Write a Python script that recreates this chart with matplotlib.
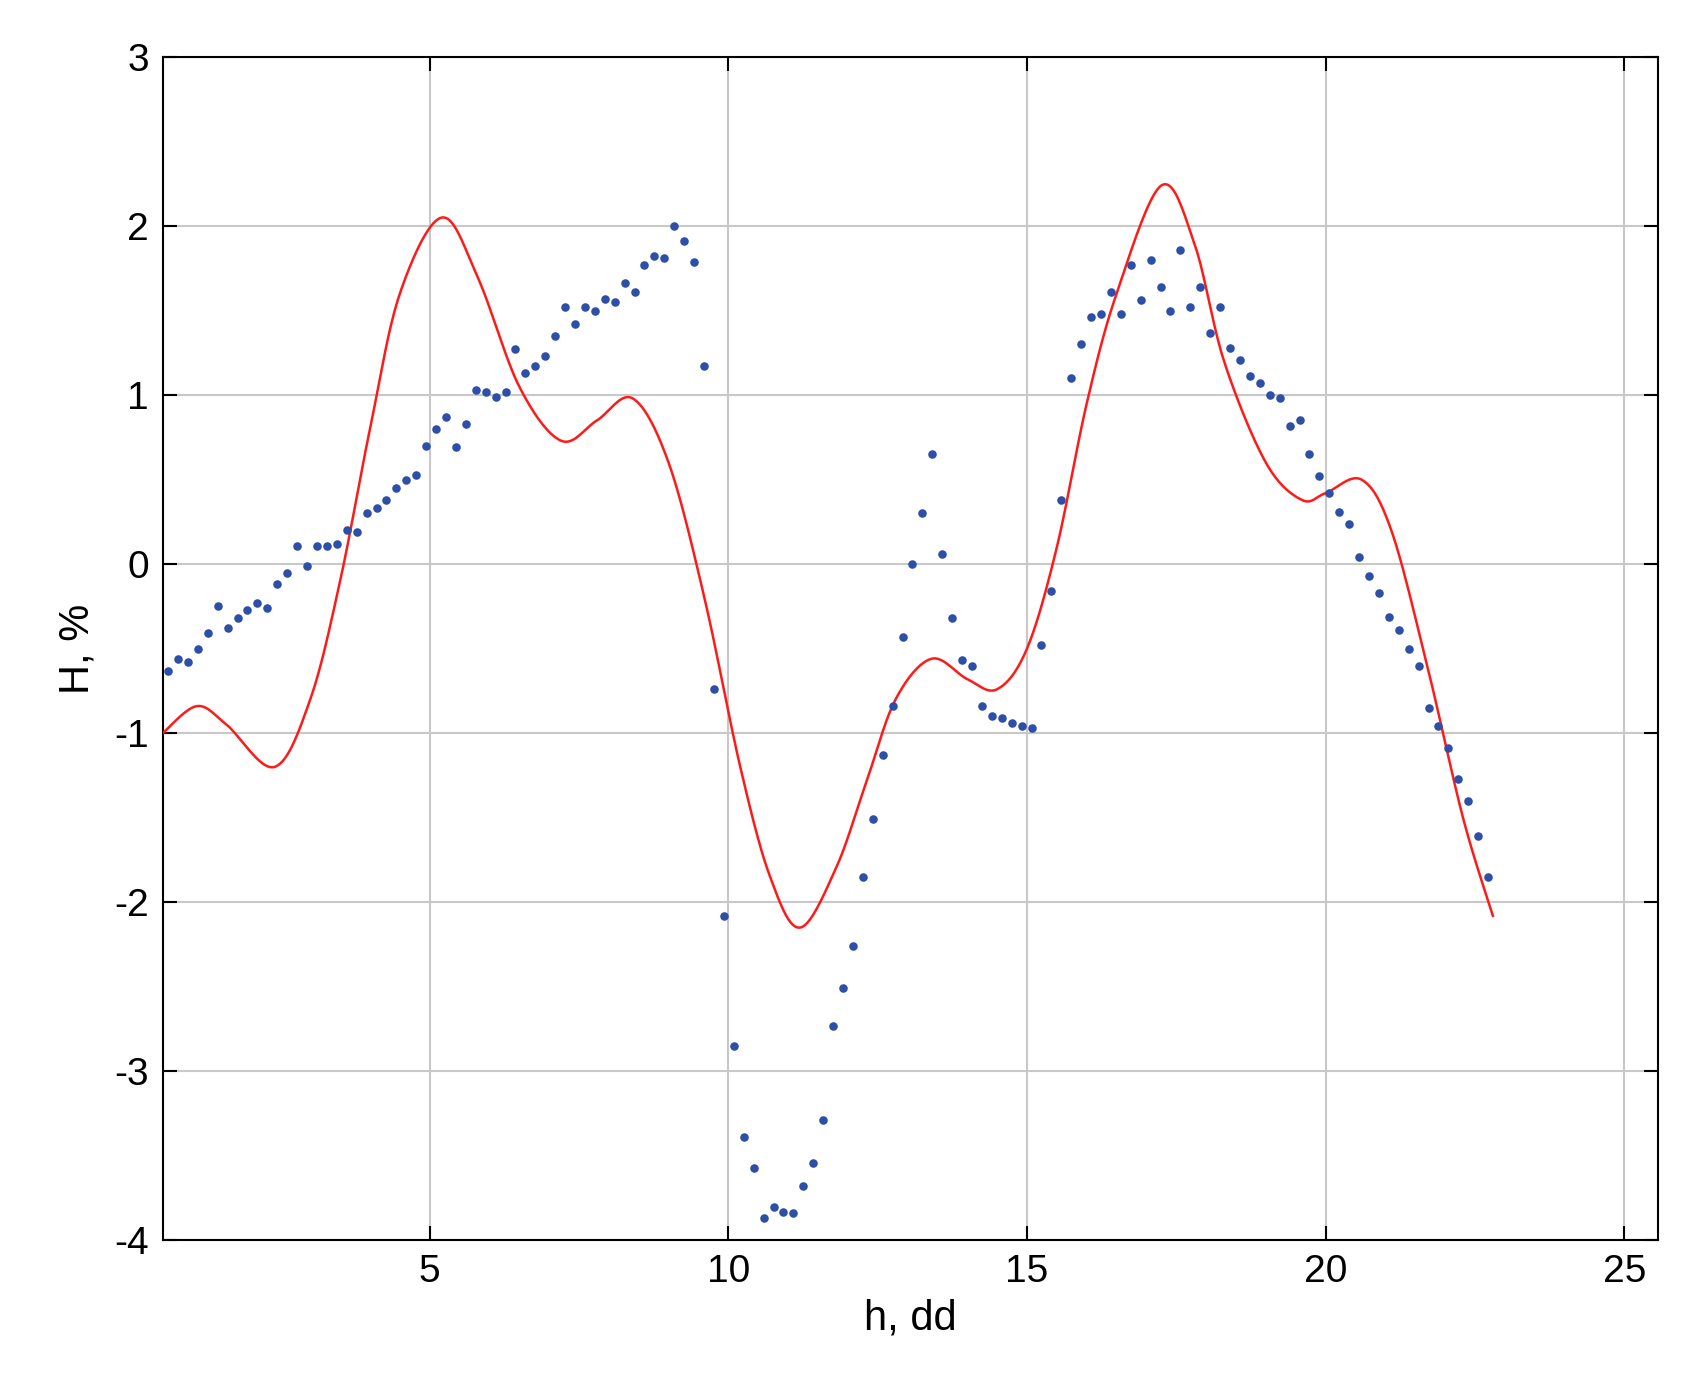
import numpy as np
import matplotlib
matplotlib.use("Agg")
import matplotlib.pyplot as plt

plt.rcParams['font.family'] = ['Liberation Sans', 'DejaVu Sans']
plt.rcParams['axes.unicode_minus'] = False

obs_y = [-0.63,-0.56,-0.58,-0.50,-0.41,-0.25,-0.38,-0.32,-0.27,-0.23,-0.26,-0.12,-0.05,0.11,-0.01,0.11,0.11,0.12,0.20,0.19,
         0.30,0.33,0.38,0.45,0.50,0.53,0.70,0.80,0.87,0.69,0.83,1.03,1.02,0.99,1.02,1.27,1.13,1.17,1.23,1.35,
         1.52,1.42,1.52,1.50,1.57,1.55,1.66,1.61,1.77,1.82,1.81,2.00,1.91,1.79,1.17,-0.74,-2.08,-2.85,-3.39,-3.57,
         -3.87,-3.80,-3.83,-3.84,-3.68,-3.54,-3.29,-2.73,-2.51,-2.26,-1.85,-1.51,-1.13,-0.84,-0.43,0.00,0.30,0.65,0.06,-0.32,
         -0.57,-0.60,-0.84,-0.90,-0.91,-0.94,-0.96,-0.97,-0.48,-0.16,0.38,1.10,1.30,1.46,1.48,1.61,1.48,1.77,1.56,1.80,
         1.64,1.50,1.86,1.52,1.64,1.37,1.52,1.28,1.21,1.11,1.07,1.00,0.98,0.82,0.85,0.65,0.52,0.42,0.31,0.24,
         0.04,-0.07,-0.17,-0.31,-0.39,-0.50,-0.60,-0.85,-0.96,-1.09,-1.27,-1.40,-1.61,-1.85]
obs_x = np.linspace(0.62, 22.72, len(obs_y))

fit_x = [0.53,1.1,1.6,2.4,3.0,3.5,4.0,4.5,5.2,5.8,6.5,7.2,7.8,8.4,9.0,9.6,10.2,10.7,11.2,11.8,12.3,12.8,13.4,14.0,14.5,
         15.0,15.5,16.0,16.5,17.25,17.8,18.3,19.0,19.6,20.0,20.6,21.1,21.7,22.3,22.8]
fit_y = [-1.0,-0.84,-0.95,-1.2,-0.8,-0.1,0.8,1.6,2.05,1.7,1.05,0.73,0.85,0.98,0.6,-0.2,-1.2,-1.85,-2.15,-1.8,-1.3,-0.8,-0.56,-0.68,-0.74,
         -0.5,0.1,0.95,1.6,2.24,1.9,1.2,0.6,0.38,0.42,0.5,0.2,-0.6,-1.5,-2.08]

def smooth(xs, ys, n=20):
    p = np.column_stack([xs, ys])
    p = np.vstack([p[0], p, p[-1]])
    out = []
    t = np.linspace(0, 1, n, endpoint=False)[:, None]
    for i in range(1, len(p) - 2):
        p0, p1, p2, p3 = p[i-1], p[i], p[i+1], p[i+2]
        out.append(0.5*((2*p1) + (-p0+p2)*t + (2*p0-5*p1+4*p2-p3)*t**2 + (-p0+3*p1-3*p2+p3)*t**3))
    out.append(p[-2][None, :])
    a = np.vstack(out)
    return a[:, 0], a[:, 1]

fig = plt.figure(figsize=(16.95, 13.89), dpi=100)
ax = fig.add_axes([0.096, 0.107, 0.882, 0.852])
sx, sy = smooth(fit_x, fit_y)
ax.plot(sx, sy, color='#ff1a1a', lw=1.8, zorder=3)
ax.scatter(obs_x, obs_y, s=38, color='#2e4fa8', zorder=4, linewidths=0)
ax.set_xlim(0.53, 25.56)
ax.set_ylim(-4, 3)
ax.set_xticks([5, 10, 15, 20, 25])
ax.set_yticks(range(-4, 4))
ax.grid(True, color='#c8c8c8', lw=1.5)
ax.tick_params(direction='in', length=10, width=1.5, labelsize=28, top=True, right=True, pad=10)
for s in ax.spines.values():
    s.set_linewidth(1.5)
ax.set_xlabel('h, dd', fontsize=30, labelpad=6)
ax.set_ylabel('H, %', fontsize=30, labelpad=12)
fig.savefig('out.png', dpi=100)
